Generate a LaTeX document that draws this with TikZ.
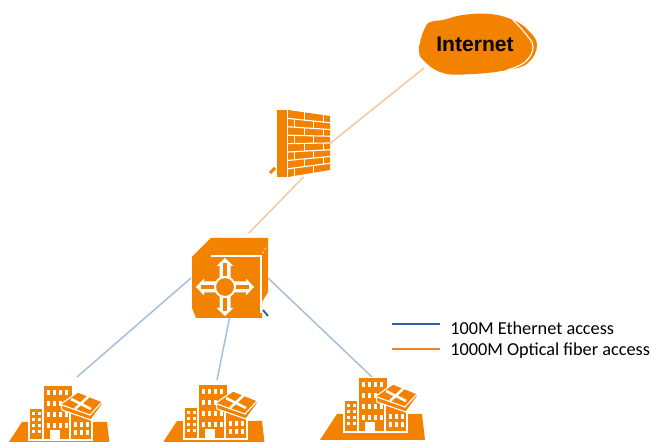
\documentclass[tikz,border=0pt]{standalone}
\usepackage{fontspec}
\setmainfont{Carlito}
\newfontfamily\labelfont{Liberation Sans}
\usetikzlibrary{calc, positioning}
\definecolor{deviceorange}{HTML}{F28200}
\definecolor{uplinkorange}{HTML}{F9C6A0}
\definecolor{accessblue}{HTML}{A3BFDD}
\definecolor{legendblue}{HTML}{2F5FA8}
\definecolor{legendorange}{HTML}{F58220}
\tikzset{
  device/.style={fill=deviceorange, draw=none},
  seam/.style={draw=white, line width=0.85pt},
  block/.style={fill=deviceorange, draw=white, line width=0.85pt},
  pane/.style={fill=white, draw=none},
  port/.style={inner sep=0pt, outer sep=0pt},
  uplink/.style={uplinkorange, line width=1.1pt},
  access/.style={accessblue, line width=1.1pt},
  legendline/.style={line width=1.6pt},
  legendtext/.style={anchor=west, inner sep=0pt, font=\fontsize{13.7}{16}\selectfont},
  routearm/.pic={
    \fill[white] (9,-5.5) -- (21,-5.5) -- (21,-8.5) -- (29,0) -- (21,8.5) -- (21,5.5) -- (9,5.5) -- cycle;
    \fill[device] (11,-2) -- (24,-2) -- (24,2) -- (11,2) -- cycle;
  },
  building/.pic={
    \fill[device] (22,422) -- (107,422) -- (110,448) -- (5,448) -- cycle;
    \draw[seam] (29,440) -- (92,440);
    \filldraw[block] (43,385) rectangle (73,440);
    \filldraw[block] (29,408) rectangle (43,440);
    \filldraw[block] (70,413) rectangle (92,440);
    \foreach \wx in {46.5,52.5,58.5,64.5} {
      \foreach \wy in {390,401,412,423} {
        \fill[pane] (\wx,\wy) rectangle +(3.6,4.6);
      }
    }
    \foreach \wx in {32,37.5} {
      \foreach \wy in {412,418,424,430} {
        \fill[pane] (\wx,\wy) rectangle +(3.4,3.2);
      }
    }
    \foreach \wx in {74,80,86} {
      \foreach \wy in {422,430} {
        \fill[pane] (\wx,\wy) rectangle +(3.4,4.6);
      }
    }
    \fill[pane] (50,430) rectangle (60,440);
    \filldraw[block] (61,404) -- (78,392) -- (103,402) -- (102,405) -- (91,420) -- (62,410) -- cycle;
    \draw[seam] (62,405) -- (90,415) -- (102,402);
    \draw[white, line width=1.9pt] (71,399) -- (91,409) (89,396) -- (75,409);
  }
}
\begin{document}
\begin{tikzpicture}[x=0.75pt, y=-0.75pt]
  \clip (0,0) rectangle (651,442);
  \fill[white] (0,0) rectangle (651,442);

  \fill[device] plot[smooth cycle, tension=0.7] coordinates {(420,43) (424,30) (430,22) (443,20) (463,15) (490,14) (513,20) (528,30) (537,45) (528,63) (507,70) (473,74) (443,73) (423,60) (419,50)};
  \draw[seam] plot[smooth, tension=0.7] coordinates {(513,20) (525,33) (533,47) (525,62) (507,70)};
  \node[port, minimum width=102*0.75pt, minimum height=48*0.75pt, font=\labelfont\bfseries\fontsize{15.8}{18}\selectfont] (internet) at (475,44) {Internet};

  \node[port, minimum width=53*0.75pt, minimum height=67*0.75pt] (firewall) at (303.5,143.5) {};
  \fill[device] (277,110) rectangle (287,177);
  \fill[device] (288,110) -- (330,116) -- (330,170) -- (288,177) -- cycle;
  \draw[device, draw=deviceorange, line width=2.2pt] (270,173) -- (275,168);
  \foreach \i in {1,...,7} {
    \pgfmathsetmacro\ya{110+\i*8.4}
    \pgfmathsetmacro\yb{116+\i*6.75}
    \draw[seam] (288,\ya) -- (330,\yb);
  }
  \foreach \i/\fa/\fb in {0/.4/.85, 1/.15/.6, 2/.4/.85, 3/.15/.6, 4/.4/.85, 5/.15/.6, 6/.4/.85, 7/.15/.6} {
    \foreach \f in {\fa,\fb} {
      \pgfmathsetmacro\ya{110+\i*8.4+\f*(6-\i*1.65)}
      \pgfmathsetmacro\yb{\ya+8.4-\f*1.65}
      \pgfmathsetmacro\xa{288+42*\f}
      \draw[seam] (\xa,\ya) -- (\xa,\yb);
    }
  }

  \node[port, minimum width=77*0.75pt, minimum height=80*0.75pt] (switch) at (229.5,278) {};
  \fill[device] (192,257) -- (211,238) -- (268,238) -- (268,292) -- (262,302) -- (262,318) -- (196,318) -- (192,308) -- cycle;
  \draw[seam] (211,256) -- (261,256) -- (261,313);
  \draw[seam, dotted] (261,256) -- (267,246);
  \foreach \a in {0,90,180,270} {
    \pic[rotate=\a] at (225,287) {routearm};
  }
  \draw[white, fill=deviceorange, line width=1.5pt] (225,287) circle [radius=10];
  \draw[legendblue, line width=1.4pt] (263,310) -- (268,316);

  \pic at (0,0) {building};
  \pic at (155,-1) {building};
  \pic at (315,-8) {building};
  \coordinate (buildingA) at (77,377);
  \coordinate (buildingB) at (217,380);
  \coordinate (buildingC) at (372,377);

  \draw[uplink] (internet.south west) -- (firewall.east);
  \draw[uplink, shorten >=5pt] (firewall.south) -- (switch.70);
  \draw[access] (switch.west) -- (buildingA);
  \draw[access] (switch.south) -- (buildingB);
  \draw[access] (switch.east) -- (buildingC);

  \coordinate (legendA) at (392,324);
  \coordinate (legendB) at (392,349);
  \node[legendtext, anchor=west] (ethernet) at (450,328) {100M Ethernet access};
  \node[legendtext, anchor=west] (optical) at (450,351) {1000M Optical fiber access};
  \draw[legendline, legendblue] (legendA) -- +(48,0);
  \draw[legendline, legendorange] (legendB) -- +(48,0);
\end{tikzpicture}
\end{document}
